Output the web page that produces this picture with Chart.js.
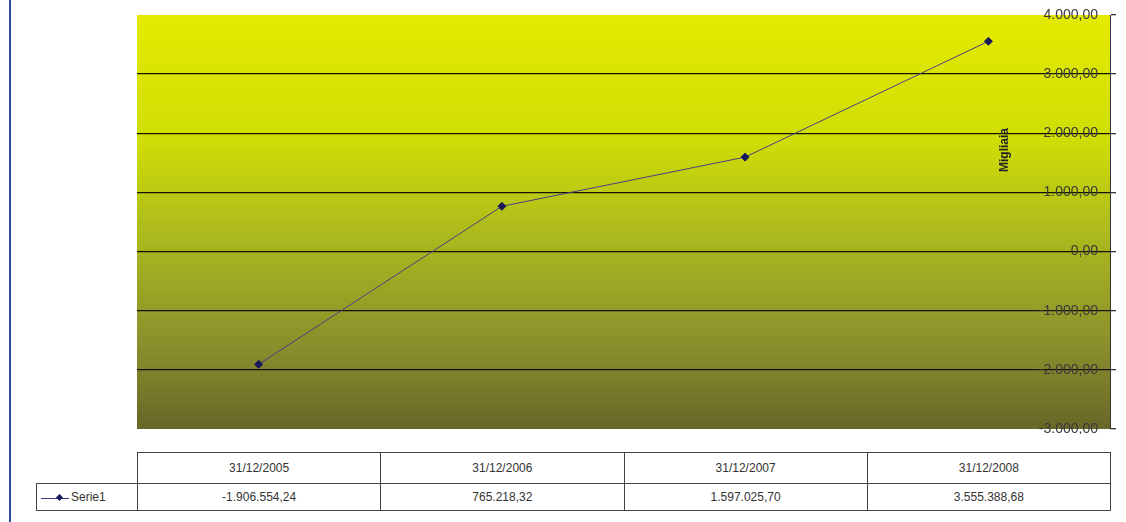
<!DOCTYPE html>
<html>
<head>
<meta charset="utf-8">
<script src="https://cdn.jsdelivr.net/npm/chart.js@4"></script>
<style>
  html, body { margin:0; padding:0; background:#fff; }
  body { width:1126px; height:522px; position:relative; overflow:hidden; font-family:"Liberation Sans", Arial, sans-serif; }
  #bar { position:absolute; left:9px; top:0; width:2px; height:522px; background:#2c4f9e; }
  #wrap { position:absolute; left:0; top:0; width:1126px; height:434px; }
  #tbl { position:absolute; left:36px; top:452px; border-collapse:collapse; table-layout:fixed; width:1075px; font-size:12px; color:#333; }
  #tbl td { border:1px solid #444; text-align:center; height:30px; padding:0; }
  #tbl tr.r2 td { height:26px; }
  #tbl td.blank { border:none; }
  #tbl td.leg { text-align:left; padding-left:4px; white-space:nowrap; }
  .sym { display:inline-block; position:relative; width:28px; height:10px; vertical-align:middle; margin-right:2px; }
  .sym:before { content:""; position:absolute; left:0; right:0; top:5px; height:1px; background:#3a3a7a; }
  .sym:after { content:""; position:absolute; left:16px; top:2px; width:5px; height:5px; background:#1a1a5a; transform:rotate(45deg); }
</style>
</head>
<body>
<div id="bar"></div>
<div id="wrap"><canvas id="c"></canvas></div>
<table id="tbl"></table>
<script>
const categories = ["31/12/2005", "31/12/2006", "31/12/2007", "31/12/2008"];
const serieName = "Serie1";
const serieValues = [-1906554.24, 765218.32, 1597025.70, 3555388.68];
const axisTitle = "Migliaia";
const yMin = -3000, yMax = 4000, yStep = 1000;

function fmtIt(v, dec) {
  const neg = v < 0;
  const s = Math.abs(v).toFixed(dec);
  const [ip, fp] = s.split(".");
  const g = ip.replace(/\B(?=(\d{3})+(?!\d))/g, ".");
  return (neg ? "-" : "") + g + (fp ? "," + fp : "");
}

// table
const tbl = document.getElementById("tbl");
let h = '<colgroup><col style="width:101px">' + categories.map(()=>'<col>').join('') + '</colgroup>';
h += '<tr><td class="blank"></td>' + categories.map(c => '<td>' + c + '</td>').join('') + '</tr>';
h += '<tr class="r2"><td class="leg"><span class="sym"></span>' + serieName + '</td>' + serieValues.map(v => '<td>' + fmtIt(v, 2) + '</td>').join('') + '</tr>';
tbl.innerHTML = h;

const bgPlugin = {
  id: 'bg',
  beforeDraw(chart) {
    const {ctx, chartArea:a} = chart;
    const g = ctx.createLinearGradient(0, a.top, 0, a.bottom);
    g.addColorStop(0, '#e4ea00');
    g.addColorStop(0.3, '#d0de06');
    g.addColorStop(0.55, '#a9b61e');
    g.addColorStop(0.8, '#8a8e2c');
    g.addColorStop(1, '#676728');
    ctx.save();
    ctx.fillStyle = g;
    ctx.fillRect(a.left, a.top, a.right - a.left, a.bottom - a.top);
    ctx.restore();
  },
  afterDraw(chart) {
    const {ctx, chartArea:a} = chart;
    ctx.save();
    ctx.translate(a.right - 105, a.top + 135);
    ctx.rotate(-Math.PI/2);
    ctx.font = 'bold 12px "Liberation Sans", Arial, sans-serif';
    ctx.fillStyle = '#222';
    ctx.textAlign = 'center';
    ctx.textBaseline = 'middle';
    ctx.fillText(axisTitle, 0, 0);
    ctx.restore();
  }
};

new Chart(document.getElementById('c'), {
  type: 'line',
  data: {
    labels: categories,
    datasets: [{
      label: serieName,
      data: serieValues.map(v => v / 1000),
      borderColor: '#4a3f80',
      borderWidth: 1,
      pointStyle: 'rectRot',
      pointRadius: 4,
      pointBackgroundColor: '#1a1a5a',
      pointBorderColor: '#1a1a5a',
      tension: 0
    }]
  },
  options: {
    responsive: true,
    maintainAspectRatio: false,
    animation: false,
    layout: { padding: { left: 137, top: 15, right: 10, bottom: 0 } },
    plugins: { legend: { display: false }, tooltip: { enabled: false } },
    scales: {
      x: { display: false, offset: true },
      y: {
        position: 'right',
        min: yMin, max: yMax,
        afterFit(scale) { scale.width = 6; },
        ticks: {
          stepSize: yStep,
          mirror: true,
          padding: -12,
          color: '#3a3a3a',
          font: { family: '"Liberation Sans", Arial, sans-serif', size: 14 },
          callback: v => fmtIt(v, 2)
        },
        grid: {
          color: ctx => (ctx.tick && (ctx.tick.value === yMin || ctx.tick.value === yMax)) ? 'rgba(0,0,0,0)' : '#141400',
          tickColor: '#333',
          tickLength: 6,
          lineWidth: 1.3
        },
        border: { display: true, color: '#333', width: 1 }
      }
    }
  },
  plugins: [bgPlugin]
});
</script>
</body>
</html>
